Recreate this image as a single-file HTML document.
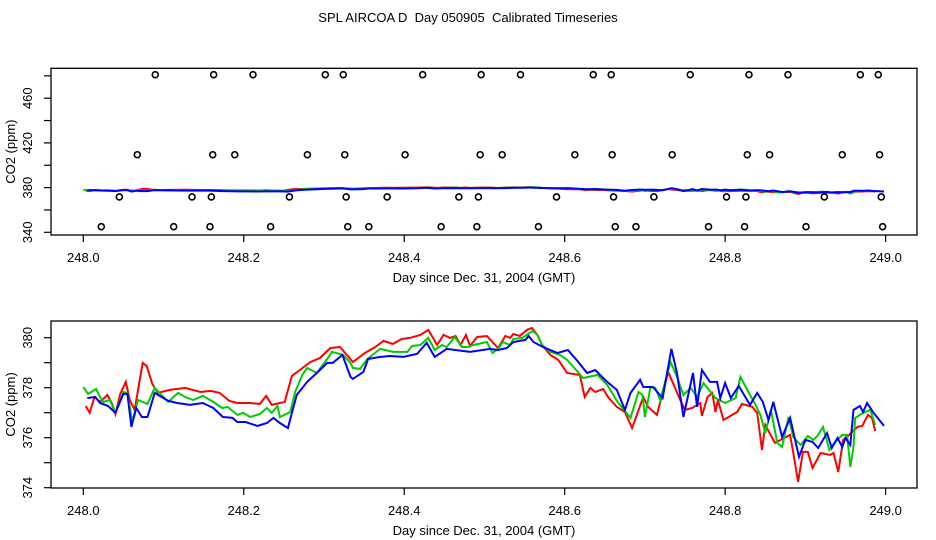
<!DOCTYPE html>
<html><head><meta charset="utf-8"><style>
html,body{margin:0;padding:0;background:#fff;}
svg{display:block;font-family:"Liberation Sans",sans-serif;}
</style></head><body>
<svg id="chart" width="936" height="540" viewBox="0 0 936 540" xmlns="http://www.w3.org/2000/svg">
<text x="468" y="22" text-anchor="middle" font-size="13" style="white-space:pre" xml:space="preserve">SPL AIRCOA D  Day 050905  Calibrated Timeseries</text>
<g id="top"></g>
<g id="bot"></g>
</svg>
<script>
// ---- data ----
const redDay=[.003,.008,.014,.021,.030,.036,.040,.046,.053,.058,.064,.074,.079,.086,.093,.108,.127,.146,.159,.170,.182,.192,.207,.220,.228,.235,.251,.260,.270,.283,.295,.308,.320,.336,.351,.364,.374,.386,.397,.407,.420,.430,.441,.449,.457,.464,.470,.477,.482,.491,.503,.511,.517,.526,.532,.536,.544,.553,.559,.566,.572,.582,.592,.603,.619,.625,.632,.638,.648,.654,.665,.675,.684,.698,.704,.715,.729,.744,.750,.759,.769,.771,.778,.784,.788,.791,.798,.815,.821,.834,.840,.846,.850,.862,.881,.885,.891,.897,.903,.909,.919,.931,.935,.941,.947,.952,.958,.965,.971,.978,.983,.987];
const redVal=[377.27,376.99,377.63,377.43,377.71,377.35,376.95,377.75,378.23,377.51,377.11,378.99,378.87,378.15,377.79,377.91,377.99,377.83,377.87,377.79,377.47,377.39,377.39,377.35,377.67,377.31,377.43,378.47,378.71,379.03,379.19,379.59,379.63,379.03,379.39,379.63,379.87,379.75,379.95,379.99,380.11,380.31,379.71,380.11,379.99,380.07,379.71,380.11,379.67,380.03,380.07,379.79,379.59,380.07,379.99,380.15,380.07,380.31,380.39,380.11,379.71,379.31,379.11,378.59,378.51,377.63,377.99,377.83,377.95,377.63,377.23,377.03,376.39,377.63,377.23,376.91,378.63,377.51,377.11,377.19,377.39,376.87,377.63,377.79,377.03,377.51,376.71,377.03,377.35,377.23,376.99,375.51,376.51,375.79,376.11,375.39,374.23,375.43,375.43,374.79,375.39,375.31,375.39,374.63,375.91,376.03,376.23,376.43,376.47,376.91,376.79,376.27];
const greenDay=[.000,.006,.016,.021,.025,.033,.040,.050,.055,.061,.068,.080,.089,.106,.118,.127,.137,.149,.162,.173,.180,.192,.199,.208,.220,.229,.235,.242,.245,.258,.264,.273,.279,.291,.304,.310,.324,.333,.336,.345,.354,.370,.386,.404,.410,.420,.430,.438,.447,.453,.463,.472,.480,.486,.503,.510,.517,.523,.532,.536,.547,.560,.566,.572,.582,.594,.603,.611,.623,.641,.653,.666,.682,.692,.697,.700,.707,.713,.719,.732,.740,.748,.757,.765,.773,.788,.800,.813,.819,.829,.838,.844,.850,.857,.865,.871,.879,.885,.894,.903,.910,.915,.922,.930,.937,.946,.952,.956,.960,.962,.972,.981,.987];
const greenVal=[378.03,377.75,377.95,377.63,377.43,377.51,376.99,377.83,377.79,376.63,377.51,377.35,377.99,377.43,377.79,377.63,377.51,377.67,377.43,377.19,377.23,376.91,376.99,376.83,376.95,377.19,376.99,377.27,376.83,377.03,377.83,378.51,378.79,378.59,379.15,379.43,379.31,378.99,378.79,378.75,379.15,379.55,379.43,379.43,379.67,379.71,379.99,379.51,379.71,379.63,380.03,379.63,379.63,379.71,379.83,379.39,379.55,379.83,379.71,379.95,379.99,380.27,380.11,379.71,379.43,379.31,379.11,378.83,378.39,378.51,378.11,377.43,376.79,377.83,377.71,376.83,378.03,377.99,377.51,379.03,378.43,377.71,377.99,377.63,378.19,377.59,377.39,377.59,378.43,377.83,377.31,376.91,376.19,377.11,375.79,375.63,376.83,376.03,375.71,376.07,375.91,376.07,376.43,375.51,375.83,376.11,376.11,374.83,375.63,376.79,376.99,377.11,376.51];
const blueDay=[.005,.015,.021,.031,.040,.050,.055,.060,.066,.073,.080,.089,.106,.117,.133,.149,.162,.174,.186,.192,.202,.217,.229,.237,.245,.255,.266,.279,.291,.304,.311,.323,.333,.336,.349,.355,.370,.382,.399,.416,.428,.438,.453,.482,.507,.517,.528,.536,.551,.555,.561,.573,.591,.604,.617,.628,.638,.653,.665,.675,.682,.694,.698,.710,.722,.733,.740,.748,.760,.765,.771,.781,.790,.794,.800,.807,.817,.831,.840,.847,.854,.860,.871,.881,.892,.900,.909,.916,.927,.933,.940,.946,.950,.956,.960,.968,.972,.977,.985,.998];
const blueVal=[377.59,377.63,377.39,377.27,376.99,377.75,377.75,376.43,377.19,376.83,376.83,377.79,377.47,377.39,377.31,377.39,377.19,376.83,376.79,376.63,376.63,376.47,376.59,376.79,376.59,376.39,377.71,378.23,378.59,378.99,378.99,379.31,378.43,378.35,378.63,379.15,379.23,379.27,379.23,379.35,379.79,379.23,379.55,379.43,379.55,379.51,379.59,379.83,379.91,380.07,379.83,379.63,379.39,379.51,379.03,378.59,378.71,378.23,377.91,377.11,377.79,378.31,378.03,378.03,377.59,379.55,378.59,376.83,378.59,377.23,378.71,378.23,378.23,377.59,378.19,377.59,378.07,377.31,377.79,377.43,376.71,377.43,376.03,376.79,375.23,375.91,375.83,375.59,376.19,375.59,375.99,375.63,375.99,375.71,377.11,377.27,377.03,377.39,376.99,376.47];
const rawDay=[.0897,.1625,.2115,.3016,.3240,.4230,.4959,.5449,.6356,.6580,.7565,.8297,.8783,.9685,.9909,
.0673,.1613,.1888,.2793,.3259,.4011,.4947,.5221,.6127,.6592,.7340,.8276,.8554,.9460,.9925,
.0449,.1355,.1596,.2569,.3276,.3787,.4681,.4925,.5898,.6609,.7112,.8017,.8259,.9236,.9946,
.0224,.1127,.1579,.2335,.3296,.3559,.4460,.4905,.5673,.6630,.6888,.7793,.8242,.9008,.9963];
const rawVal=[481,481,481,481,481,481,481,481,481,481,481,481,481,481,481,
409.4,409.4,409.4,409.4,409.4,409.4,409.4,409.4,409.4,409.4,409.4,409.4,409.4,409.4,409.4,
371.6,371.6,371.6,371.6,371.6,371.6,371.6,371.6,371.6,371.6,371.6,371.6,371.6,371.6,371.6,
345,345,345,345,345,345,345,345,345,345,345,345,345,345,345];
const xTicks=[248.0,248.2,248.4,248.6,248.8,249.0];
const topYTicks=[340,380,420,460];
const botYTicks=[374,376,378,380];
// ---- drawing ----
const NS="http://www.w3.org/2000/svg";
function mk(parent,tag,attrs,txt){const e=document.createElementNS(NS,tag);for(const k in attrs)e.setAttribute(k,attrs[k]);if(txt!==undefined)e.textContent=txt;parent.appendChild(e);return e;}
const sx=d=>83.3+(d-248)*802.3;
function panel(g,top,bot,ymap,yMajor,yMinorStep,ymin,ymax,pre){
  const box=mk(g,'rect',{x:51,y:top,width:866,height:bot-top,fill:'none',stroke:'#000','stroke-width':1.3});
  
  
  xTicks.forEach(t=>{const x=sx(t);
    const l=mk(g,'line',{x1:x,x2:x,y1:bot,y2:bot+7,stroke:'#000','stroke-width':1.2});
    
    
    const tx=mk(g,'text',{x:x,y:bot+27,'text-anchor':'middle','font-size':13},t.toFixed(1));
    
    });
  for(let v=ymin;v<=ymax+1e-9;v+=yMinorStep){const y=ymap(v);
    const l=mk(g,'line',{x1:44,x2:51,y1:y,y2:y,stroke:'#000','stroke-width':1.2});
    
    }
  yMajor.forEach(v=>{const y=ymap(v);
    const tx=mk(g,'text',{x:0,y:0,'text-anchor':'middle','font-size':13,transform:`translate(32,${y}) rotate(-90)`},String(v));
    
    });
  const yt=mk(g,'text',{x:0,y:0,'text-anchor':'middle','font-size':13,transform:`translate(15,${(top+bot)/2}) rotate(-90)`},'CO2 (ppm)');
  
  
  const xt=mk(g,'text',{x:484,y:bot+47,'text-anchor':'middle','font-size':13},'Day since Dec. 31, 2004 (GMT)');
  
  
  const series=[['red',redDay,redVal,'#ff0000'],['green',greenDay,greenVal,'#00cc00'],['blue',blueDay,blueVal,'#0000ff']];
  series.forEach(([n,ds,vs,c])=>{
    const pts=ds.map((d,i)=>sx(248+d).toFixed(1)+','+ymap(vs[i]).toFixed(1)).join(' ');
    const p=mk(g,'polyline',{points:pts,fill:'none',stroke:c,'stroke-width':2,'stroke-linejoin':'miter'});
    
    });
}
const topG=document.getElementById('top'),botG=document.getElementById('bot');
const yTop=v=>232.3-(v-340)*1.1175;
const yBot=v=>487.7-(v-374)*25;
panel(topG,68.3,235,yTop,topYTicks,20,340,480,'top');
rawDay.forEach((d,i)=>{
  const c=mk(topG,'circle',{cx:sx(248+d),cy:yTop(rawVal[i]),r:3,fill:'none',stroke:'#000','stroke-width':1.6});
  
  
});
panel(botG,321,488,yBot,botYTicks,1,374,380,'bottom');
</script>
</body></html>
